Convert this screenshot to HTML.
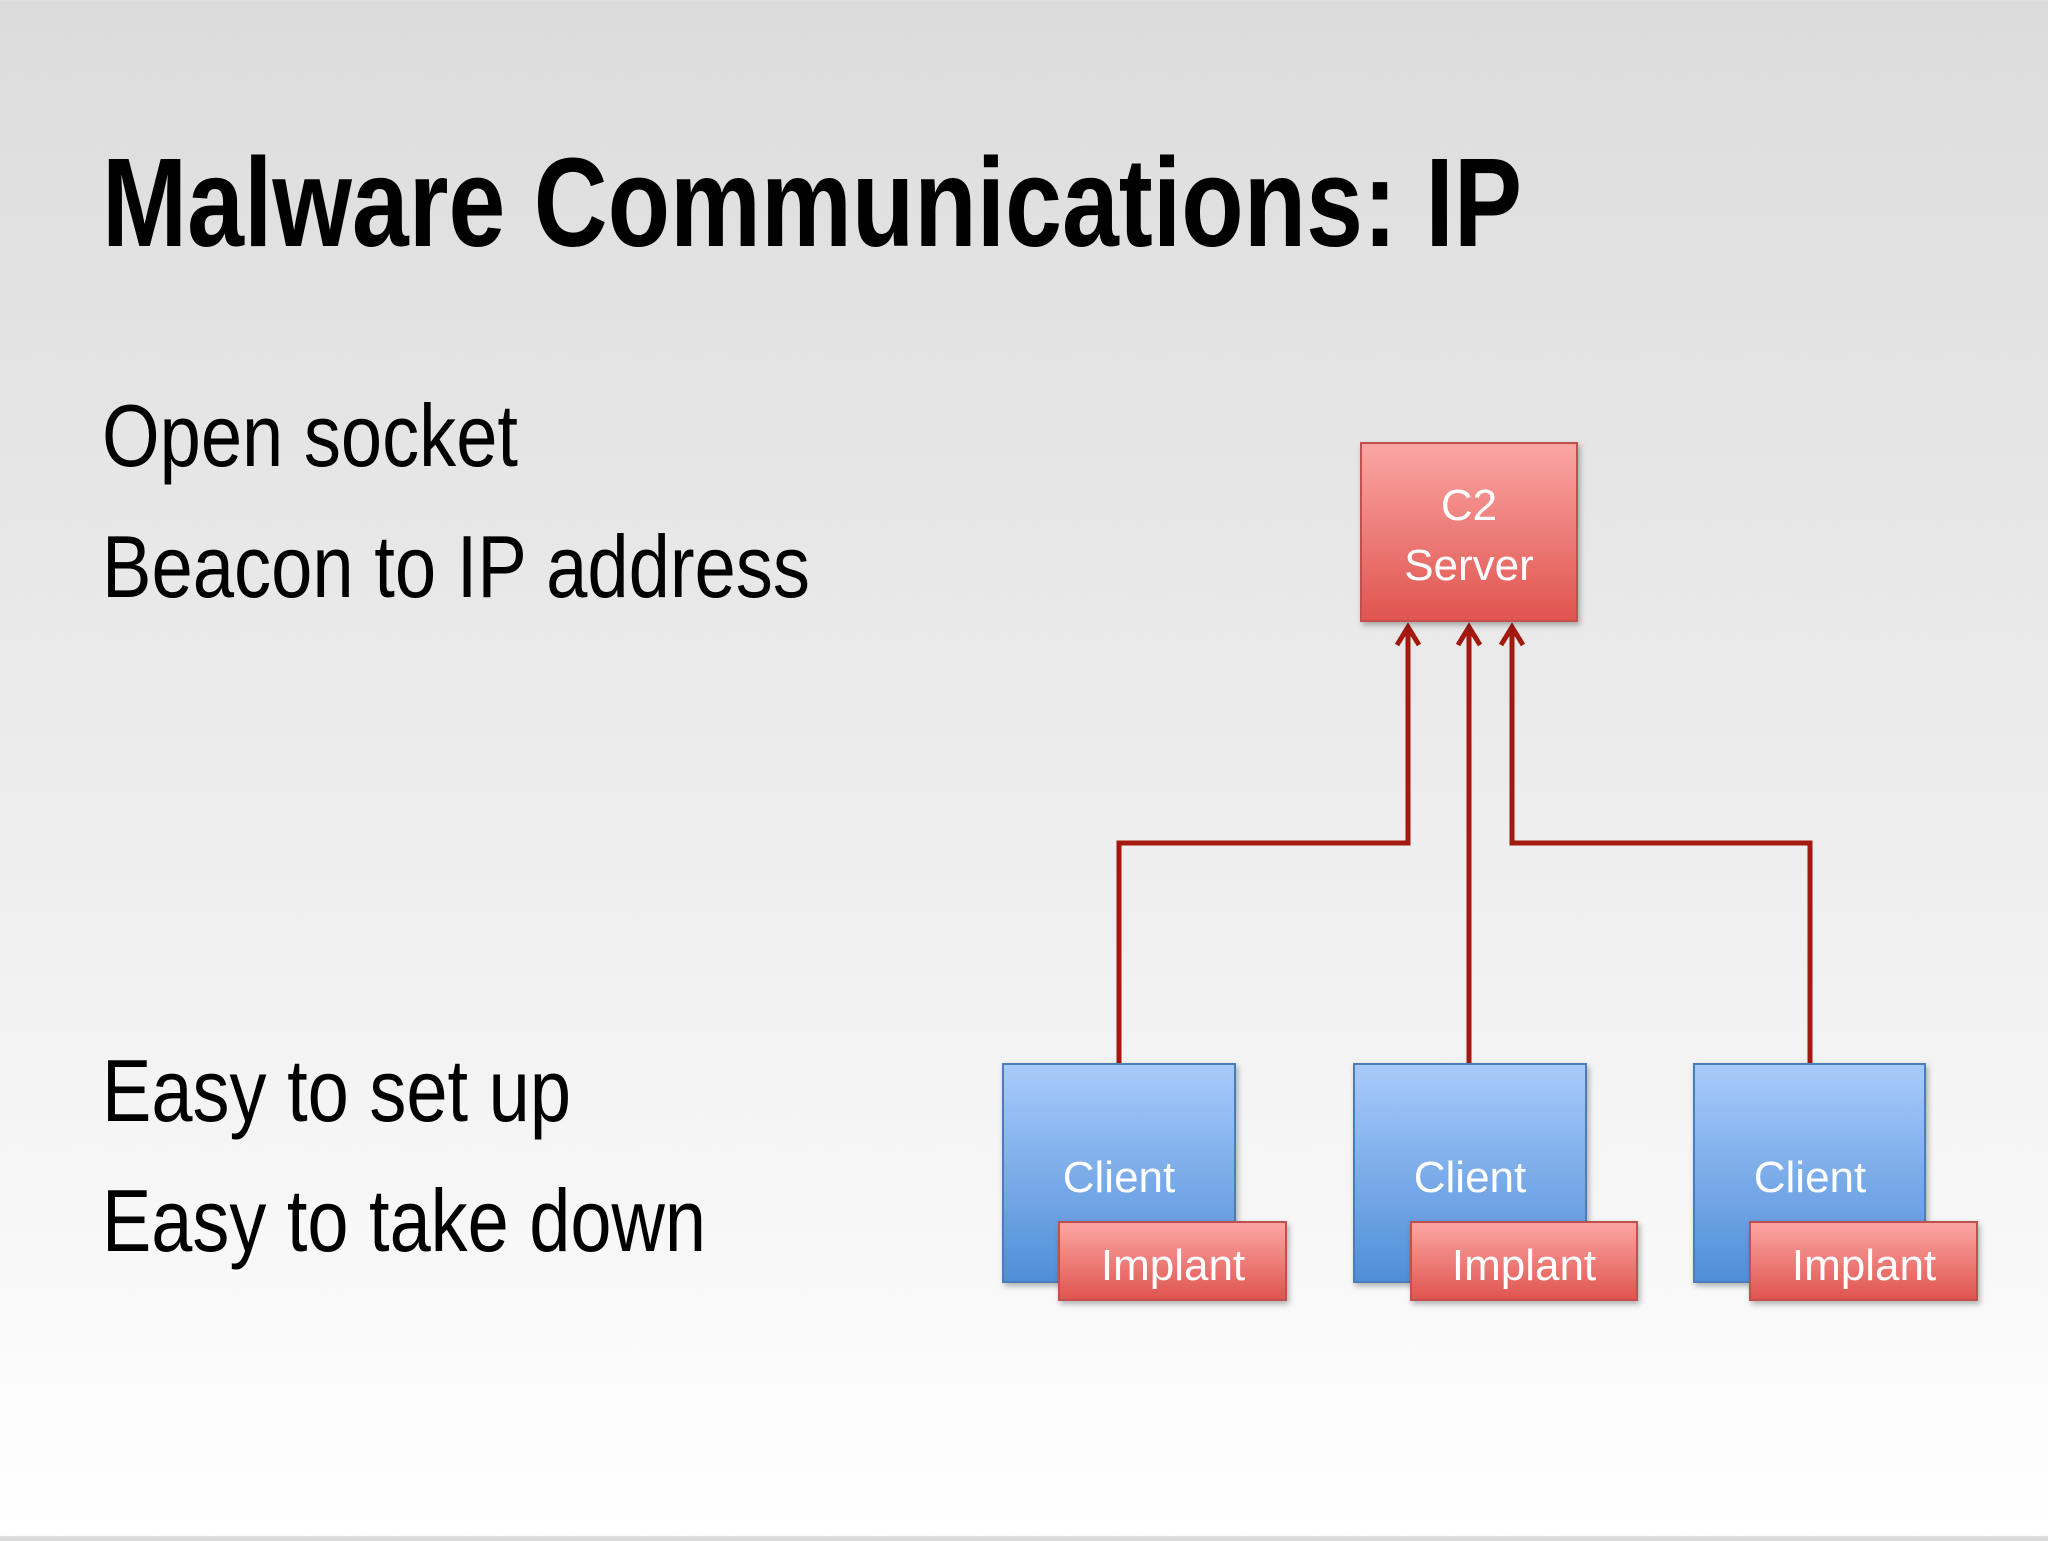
<!DOCTYPE html>
<html><head><meta charset="utf-8"><style>
html,body{margin:0;padding:0}
body{width:2048px;height:1536px;overflow:hidden;background:linear-gradient(#dcdcdc 0%,#ececec 50%,#ffffff 100%)}
</style></head><body>
<svg width="2048" height="1536" xmlns="http://www.w3.org/2000/svg">
<defs>
<linearGradient id="r" x1="0" y1="0" x2="0" y2="1"><stop offset="0" stop-color="#fba6a3"/><stop offset="1" stop-color="#e0544f"/></linearGradient>
<linearGradient id="b" x1="0" y1="0" x2="0" y2="1"><stop offset="0" stop-color="#a9cbfb"/><stop offset="1" stop-color="#4f8ed8"/></linearGradient>
<filter id="s" x="-10%" y="-10%" width="125%" height="125%"><feDropShadow dx="2" dy="3" stdDeviation="3" flood-color="#000" flood-opacity="0.3"/></filter>
</defs>
<g font-family="Liberation Sans, sans-serif" fill="#000">
<text x="102" y="246" font-size="126" font-weight="bold" textLength="1420" lengthAdjust="spacingAndGlyphs">Malware Communications: IP</text>
<text x="102" y="466" font-size="88" textLength="416" lengthAdjust="spacingAndGlyphs">Open socket</text>
<text x="102" y="597" font-size="88" textLength="708" lengthAdjust="spacingAndGlyphs">Beacon to IP address</text>
<text x="102" y="1121" font-size="88" textLength="469" lengthAdjust="spacingAndGlyphs">Easy to set up</text>
<text x="102" y="1251" font-size="88" textLength="604" lengthAdjust="spacingAndGlyphs">Easy to take down</text>
</g>
<g stroke="#a3180f" stroke-width="5" fill="none">
<polyline points="1119,1149 1119,843 1408,843 1408,628"/>
<polyline points="1469,1149 1469,628"/>
<polyline points="1810,1149 1810,843 1512,843 1512,628"/>
<polyline points="1397,645 1408,627 1419,645"/>
<polyline points="1458,645 1469,627 1480,645"/>
<polyline points="1501,645 1512,627 1523,645"/>
</g>
<rect x="1361" y="443" width="216" height="178" fill="url(#r)" stroke="#c0504d" stroke-width="2" filter="url(#s)"/>
<g fill="url(#b)" stroke="#4a7ebb" stroke-width="2" filter="url(#s)">
<rect x="1003" y="1064" width="232" height="218"/>
<rect x="1354" y="1064" width="232" height="218"/>
<rect x="1694" y="1064" width="231" height="218"/>
</g>
<g fill="url(#r)" stroke="#c0504d" stroke-width="2" filter="url(#s)">
<rect x="1059" y="1222" width="227" height="78"/>
<rect x="1411" y="1222" width="226" height="78"/>
<rect x="1750" y="1222" width="227" height="78"/>
</g>
<g font-family="Liberation Sans, sans-serif" font-size="44" fill="#fff" text-anchor="middle">
<text x="1469" y="520">C2</text>
<text x="1469" y="580">Server</text>
<text x="1119" y="1192">Client</text>
<text x="1470" y="1192">Client</text>
<text x="1810" y="1192">Client</text>
<text x="1173" y="1280">Implant</text>
<text x="1524" y="1280">Implant</text>
<text x="1864" y="1280">Implant</text>
</g>
</svg>
</body></html>
